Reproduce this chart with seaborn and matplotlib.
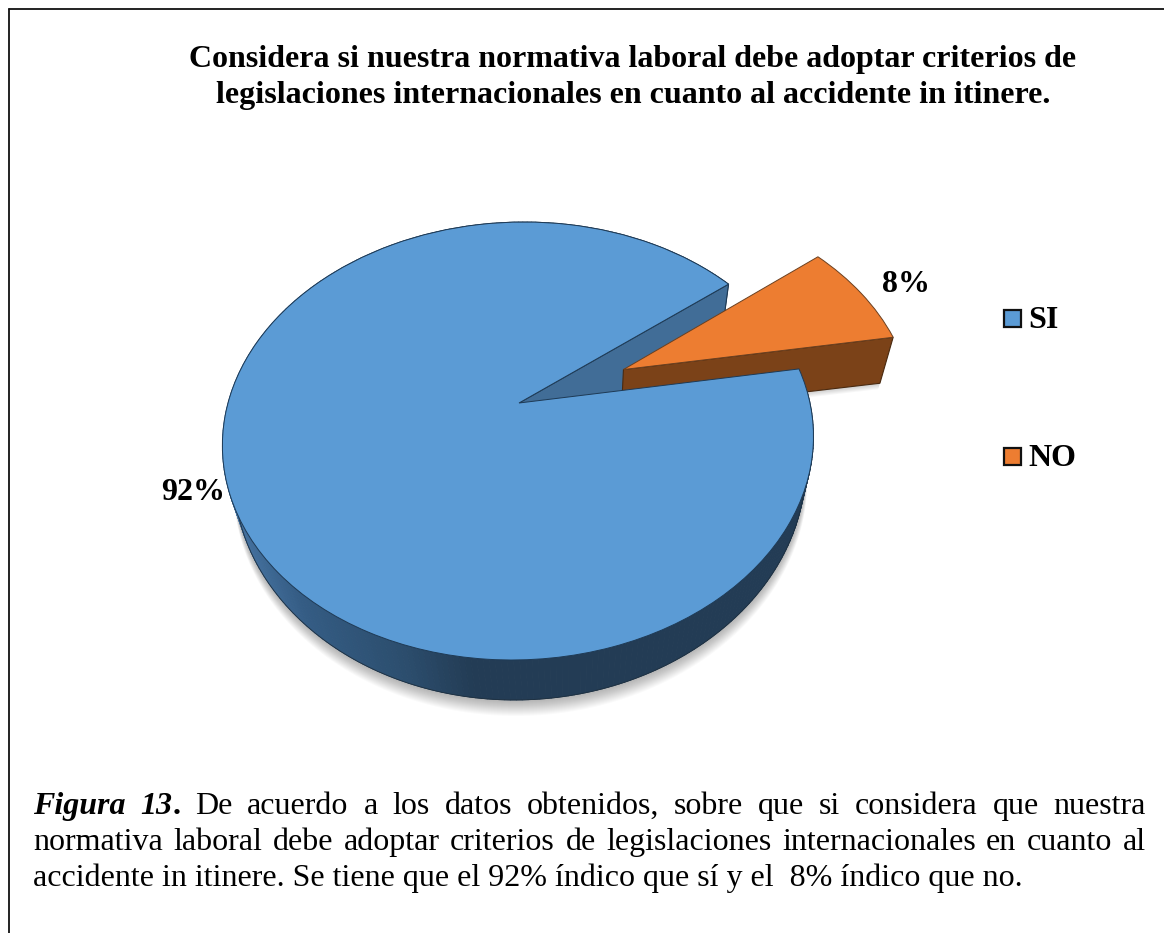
import matplotlib
matplotlib.use('Agg')
import matplotlib.pyplot as plt
import matplotlib.transforms as mtransforms
from matplotlib.collections import PolyCollection
from matplotlib.patches import Polygon, Rectangle
import numpy as np
import seaborn as sns

categories = ['SI', 'NO']
percent = [92, 8]
title_lines = ['Considera si nuestra normativa laboral debe adoptar criterios de',
               'legislaciones internacionales en cuanto al accidente in itinere.']
caption_line1 = ['De', 'acuerdo', 'a', 'los', 'datos', 'obtenidos,', 'sobre', 'que', 'si', 'considera', 'que', 'nuestra']
caption_line2 = 'normativa laboral debe adoptar criterios de legislaciones internacionales en cuanto al'
caption_line3 = 'accidente in itinere. Se tiene que el 92% índico que sí y el  8% índico que no.'

sns.set_theme(style='white')
plt.rcParams['font.family'] = ['Liberation Serif', 'DejaVu Serif']
colors = sns.color_palette(['#5B9BD5', '#ED7D31'])

# perspective of the pie plane, in pixels of the 1164x933 picture
X0, Y0, A, B, K, SHEAR = 519, 403, 291, 212.4, 0.1735, 6
VX, VY = 570, 1460
EXPLODE = 0.40


def project(u, v, depth=0.0):
    w = 1 + K * v
    x = X0 + (A * u + SHEAR * v) / w
    y = Y0 - B * v / w
    return x + (VX - x) * depth / (VY - y), y + depth


class PlaneTransform(mtransforms.Transform):
    input_dims = output_dims = 2

    def transform_non_affine(self, values):
        values = np.asarray(values)
        x, y = project(values[:, 0], values[:, 1])
        return np.column_stack([x, y])


fig, ax = plt.subplots(figsize=(11.64, 9.33), dpi=100)
fig.subplots_adjust(0, 0, 1, 1)
wedges, _ = ax.pie(percent, explode=[0, EXPLODE], startangle=38.3, colors=colors,
                   wedgeprops={'linewidth': 0.7})
ax.set_aspect('auto')
ax.set_xlim(0, 1164)
ax.set_ylim(933, 0)
ax.set_axis_off()

plane = PlaneTransform() + ax.transData
wedges[0].set(transform=plane, edgecolor='#1E3A55', zorder=6)
wedges[1].set(transform=plane, edgecolor='#6B4020', zorder=5)

# side wall of the big slice, a thin quad per step so the shade can change
si = wedges[0]
angles = np.radians(np.arange(si.theta1, si.theta2 + 0.5, 1.0))
depths = 32 - 8 * np.sin(angles)
top = np.column_stack(project(np.cos(angles), np.sin(angles)))
bot = np.column_stack(project(np.cos(angles), np.sin(angles), depths))
quads = [[top[i], top[i + 1], bot[i + 1], bot[i]] for i in range(len(angles) - 1)]
mid_x = (top[:-1, 0] + top[1:, 0]) / 2
shade = np.column_stack([np.interp(mid_x, [225, 300, 400, 470], c) for c in
                         ([72, 52, 44, 35], [118, 92, 78, 60], [165, 132, 110, 85])]) / 255
ax.add_collection(PolyCollection(quads, facecolors=shade, edgecolors=shade, linewidths=0.6, zorder=3))
front = angles[(np.degrees(angles) > 165) & (np.degrees(angles) < 360)]
fx, fy = project(np.cos(front), np.sin(front), 32 - 8 * np.sin(front))
ax.plot(fx, fy, color='#1E3040', lw=0.6, zorder=3)

# soft shadow under the base
for off in range(1, 17):
    sx, sy = project(np.cos(front), np.sin(front), 32 - 8 * np.sin(front) + off)
    sx = X0 + (sx - X0) * (1 + off * 0.0012)
    ax.add_patch(Polygon(np.column_stack([sx, sy]), closed=True, fc='black', ec='none',
                         alpha=0.02, zorder=1))

# cut walls
t = np.radians(wedges[1].theta2)
ax.add_patch(Polygon([project(0, 0), project(np.cos(t), np.sin(t)), project(np.cos(t), np.sin(t), 27),
                      project(0, 0, 75)], closed=True, fc='#416D97', ec='#1E3A55', lw=0.8, zorder=3.5))

mid = np.radians((wedges[1].theta1 + wedges[1].theta2) / 2)
cx, cy = EXPLODE * np.cos(mid), EXPLODE * np.sin(mid)
t = np.radians(wedges[1].theta1)
ox, oy = cx + np.cos(t), cy + np.sin(t)
ax.add_patch(Polygon([project(cx, cy), project(ox, oy), project(ox, oy, 46), project(cx, cy, 44)],
                     closed=True, fc='#7B4218', ec='#4A2A10', lw=0.8, zorder=4))
for off in range(1, 7):
    ax.add_patch(Polygon([project(cx, cy, 44 + off), project(ox, oy, 46 + off), project(ox, oy, 0)],
                         closed=True, fc='black', ec='none', alpha=0.03, zorder=1))

# texts
bold = {'fontweight': 'bold', 'color': 'black'}
ax.text(633, 59, title_lines[0], ha='center', va='center', fontsize=23, **bold)
ax.text(633, 95, title_lines[1], ha='center', va='center', fontsize=23, **bold)
ax.text(193, 492, f'{percent[0]}%', ha='center', va='center', fontsize=23, **bold)
ax.text(906, 284, f'{percent[1]}%', ha='center', va='center', fontsize=23, **bold)

for name, color, y in zip(categories, colors, [318, 456]):
    ax.add_patch(Rectangle((1004, y - 8.5), 17, 17, fc=color, ec='#111111', lw=1.6, zorder=7))
    ax.text(1028, y + 2, name, ha='left', va='center', fontsize=23, **bold)

# frame of the document, open at the right
ax.plot([8.5, 8.5], [933, 8.5], color='#111111', lw=1.3, zorder=8)
ax.plot([8.5, 1164], [8.5, 8.5], color='#111111', lw=1.3, zorder=8)

# caption: first two lines are justified between 33 and 1146
renderer = fig.canvas.get_renderer()
LEFT, RIGHT = 33, 1146
FS = 23


def width(artist):
    return artist.get_window_extent(renderer).width


lead1 = ax.text(LEFT, 814, 'Figura', fontsize=FS, fontstyle='italic', fontweight='bold', color='black')
lead2 = ax.text(0, 814, '13', fontsize=FS, fontstyle='italic', fontweight='bold', color='black')
dot = ax.text(0, 814, '.', fontsize=FS, fontweight='bold', color='black')
words = [ax.text(0, 814, w, fontsize=FS, color='black') for w in caption_line1]
total = width(lead1) + width(lead2) + width(dot) + sum(width(w) for w in words)
gap = (RIGHT - LEFT - total) / (len(words) + 1)
lead2.set_x(LEFT + width(lead1) + gap)
dot.set_x(LEFT + width(lead1) + gap + width(lead2))
pos = LEFT + width(lead1) + gap + width(lead2) + width(dot) + gap
for w in words:
    w.set_x(pos)
    pos += width(w) + gap

words = [ax.text(0, 850, w, fontsize=FS, color='black') for w in caption_line2.split()]
gap = (RIGHT - LEFT - sum(width(w) for w in words)) / (len(words) - 1)
pos = LEFT
for w in words:
    w.set_x(pos)
    pos += width(w) + gap

ax.text(LEFT, 886, caption_line3, fontsize=FS, color='black')

fig.savefig('out.png', dpi=100)
